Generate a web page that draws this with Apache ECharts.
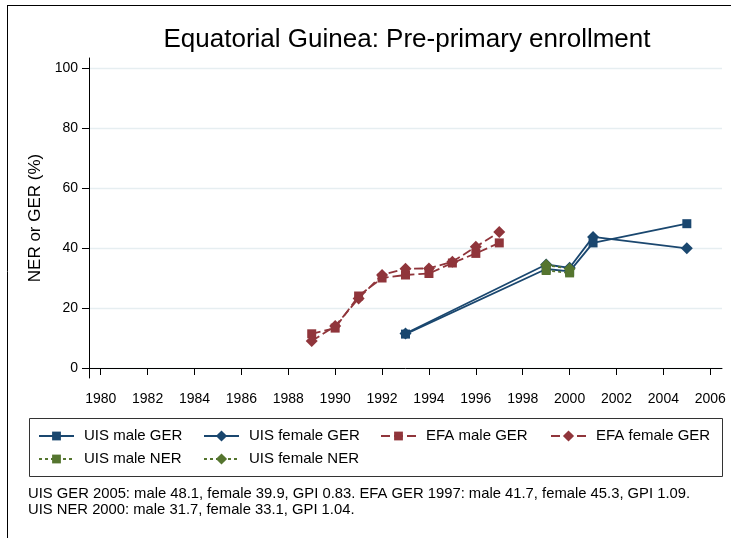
<!DOCTYPE html>
<html>
<head>
<meta charset="utf-8">
<script src="https://cdn.jsdelivr.net/npm/echarts@6/dist/echarts.min.js"></script>
<style>
html,body{margin:0;padding:0;background:#fff;}
#chart{width:731px;height:538px;}
</style>
</head>
<body>
<div id="chart"></div>
<script>
// ---- data ----
var xTicks = [1980,1982,1984,1986,1988,1990,1992,1994,1996,1998,2000,2002,2004,2006];
var yTicks = [0,20,40,60,80,100];

var uisYears = [1993, 1999, 2000, 2001, 2005];
var uisMaleGER = [11.3, 33.0, 32.2, 41.7, 48.1];
var uisFemaleGER = [11.5, 34.5, 33.4, 43.7, 39.9];

var efaYears = [1989, 1990, 1991, 1992, 1993, 1994, 1995, 1996, 1997];
var efaMaleGER = [11.4, 13.3, 24.0, 30.0, 31.0, 31.5, 35.0, 38.2, 41.7];
var efaFemaleGER = [9.0, 14.0, 23.2, 31.0, 33.1, 33.2, 35.4, 40.4, 45.3];

var nerYears = [1999, 2000];
var uisMaleNER = [32.5, 31.7];
var uisFemaleNER = [34.3, 33.1];

var seriesNames = ['UIS male GER','UIS female GER','EFA male GER','EFA female GER','UIS male NER','UIS female NER'];
var footLines = [
  'UIS GER 2005: male 48.1, female 39.9, GPI 0.83. EFA GER 1997: male 41.7, female 45.3, GPI 1.09.',
  'UIS NER 2000: male 31.7, female 33.1, GPI 1.04.'
];

function pairs(xs, ys){ return xs.map(function(x,i){ return [x, ys[i]]; }); }

var NAVY = '#1a476f', MAROON = '#90353b', GREEN = '#55752f';
var FONT = 'Liberation Sans, Arial, Helvetica, sans-serif';

function mk(name, xs, ys, color, symbol, size, dash){
  return {
    name: name, type: 'line', data: pairs(xs, ys),
    symbol: symbol, symbolSize: size, showAllSymbol: true,
    lineStyle: {color: color, width: 1.8, type: dash},
    itemStyle: {color: color},
    emphasis: {disabled: true},
    animation: false
  };
}

function leg(name, left, cy, h){
  return {
    data: [name], left: left, top: cy - Math.max(h, 15) / 2, padding: 0,
    itemWidth: 35, itemHeight: h, selectedMode: false,
    textStyle: {fontSize: 15, color: '#000', fontFamily: FONT, padding: [0,0,0,5]}
  };
}

var chart = echarts.init(document.getElementById('chart'), null, {renderer: 'canvas'});
chart.setOption({
  backgroundColor: '#fff',
  animation: false,
  title: {
    text: 'Equatorial Guinea: Pre-primary enrollment',
    left: 407, top: 27, padding: 0, textAlign: 'center',
    textStyle: {fontSize: 26, fontWeight: 'normal', color: '#000', fontFamily: FONT}
  },
  grid: {left: 89, right: 9, top: 58, bottom: 160, containLabel: false},
  xAxis: {
    type: 'value', min: 1979.5, max: 2006.5,
    axisLine: {show: true, lineStyle: {color: '#000', width: 1}},
    axisTick: {show: true, length: 7, customValues: xTicks, lineStyle: {color: '#000'}},
    axisLabel: {customValues: xTicks, fontSize: 14, color: '#000', fontFamily: FONT, margin: 14,
      formatter: function(v){ return String(Math.round(v)); }},
    splitLine: {show: false}
  },
  yAxis: {
    type: 'value', min: -3.3333, max: 103.3333,
    name: 'NER or GER (%)', nameLocation: 'middle', nameGap: 42,
    nameTextStyle: {fontSize: 17, color: '#000', fontFamily: FONT},
    axisLine: {show: true, lineStyle: {color: '#000', width: 1}},
    axisTick: {show: true, length: 7, customValues: yTicks, lineStyle: {color: '#000'}},
    axisLabel: {customValues: yTicks, fontSize: 14, color: '#000', fontFamily: FONT, margin: 11,
      formatter: function(v){ return String(Math.round(v)); }},
    splitLine: {show: true, lineStyle: {color: '#e6eef1', width: 1.3}}
  },
  legend: [
    leg(seriesNames[0], 38, 436, 11),
    leg(seriesNames[1], 203, 436, 14),
    leg(seriesNames[2], 380, 436, 11),
    leg(seriesNames[3], 550, 436, 14),
    leg(seriesNames[4], 38, 459, 11),
    leg(seriesNames[5], 203, 459, 14)
  ],
  series: [
    mk(seriesNames[0], uisYears, uisMaleGER, NAVY, 'rect', 9, 'solid'),
    mk(seriesNames[1], uisYears, uisFemaleGER, NAVY, 'diamond', 12, 'solid'),
    mk(seriesNames[2], efaYears, efaMaleGER, MAROON, 'rect', 9, [9,4]),
    mk(seriesNames[3], efaYears, efaFemaleGER, MAROON, 'diamond', 12, [9,4]),
    mk(seriesNames[4], nerYears, uisMaleNER, GREEN, 'rect', 9, [3,3]),
    mk(seriesNames[5], nerYears, uisFemaleNER, GREEN, 'diamond', 12, [3,3])
  ],
  graphic: [
    {type: 'line', shape: {x1: 7, y1: 5.5, x2: 731, y2: 5.5}, style: {stroke: '#000', lineWidth: 1}, silent: true},
    {type: 'line', shape: {x1: 7.5, y1: 5, x2: 7.5, y2: 538}, style: {stroke: '#000', lineWidth: 1}, silent: true},
    {type: 'rect', shape: {x: 29.5, y: 418.5, width: 693, height: 58}, style: {fill: 'none', stroke: '#333', lineWidth: 1}, silent: true},
    {type: 'text', left: 28, top: 486, silent: true,
     style: {text: footLines.join('\n'), fontSize: 14.8, lineHeight: 16, fill: '#000', fontFamily: FONT}}
  ]
});
</script>
</body>
</html>
